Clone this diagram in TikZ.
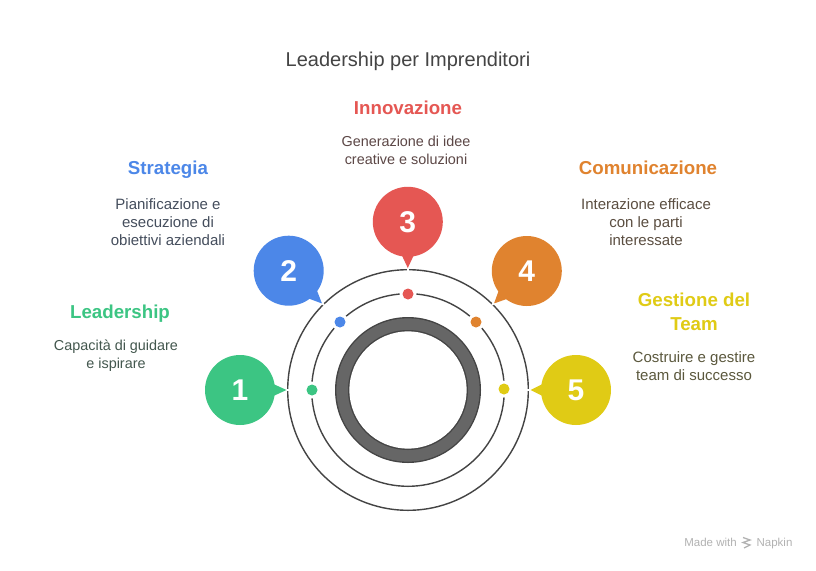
\documentclass[tikz,border=0pt]{standalone}
\usepackage{fontspec}
\setmainfont{Liberation Sans}
\definecolor{cg}{HTML}{3CC583}
\definecolor{cb}{HTML}{4C87E8}
\definecolor{cr}{HTML}{E55753}
\definecolor{co}{HTML}{E0832F}
\definecolor{cy}{HTML}{E0CB15}
\definecolor{ring}{HTML}{444444}
\newcommand{\bubble}[7]{% name, color, x, y, digit, tipx, tipy
  \coordinate (#1tip) at (#6,#7);
  \node[bub,fill=#2] (#1) at (#3,#4) {#5};
  \path let \p1=($(#1tip)-(#1.center)$), \n1={atan2(\y1,\x1)} in
    coordinate (#1a) at ($(#1.center)+(\n1+9.5:34.5pt)$)
    coordinate (#1b) at ($(#1.center)+(\n1-9.5:34.5pt)$);
  \fill[#2] (#1a) -- (#1tip) -- (#1b) -- cycle;
}
\tikzset{
  bub/.style={circle,minimum size=70pt,inner sep=0pt,text=white,font=\fontsize{30}{30}\selectfont\bfseries},
  thin ring/.style={draw=ring,line width=1.4pt},
  dotn/.style={circle,minimum size=11pt,inner sep=0pt},
  halo/.style={circle,fill=white,minimum size=17pt,inner sep=0pt},
  gapmark/.style={draw=white,line width=2pt},
  head/.style={align=center,font=\fontsize{18.7}{24}\selectfont\bfseries},
  body/.style={align=center,font=\fontsize{14.4}{18}\selectfont},
  bodyw/.style={align=center,font=\fontsize{15}{18}\selectfont},
  foot/.style={font=\fontsize{11.5}{13}\selectfont,text=black!30,anchor=base},
}
\usetikzlibrary{calc}
\begin{document}
\begin{tikzpicture}[x=1pt,y=-1pt]
\useasboundingbox[fill=white] (0,0) rectangle (816,570);
\coordinate (c) at (408,390);
% rings
\draw[thin ring] (c) circle[radius=120.3pt];
\draw[thin ring] (c) circle[radius=96.3pt];
\fill[fill=ring] (c) circle[radius=73pt];
\fill[fill=black!60] (c) circle[radius=71.6pt];
\fill[fill=ring] (c) circle[radius=60pt];
\fill[fill=white] (c) circle[radius=58.6pt];
% bubbles
\bubble{b1}{cg}{240}{390}{1}{286.5}{390}
\bubble{b2}{cb}{288.7}{270.7}{2}{322}{303.5}
\bubble{b3}{cr}{407.8}{221.8}{3}{407.8}{268}
\bubble{b4}{co}{526.8}{271}{4}{494}{303.5}
\bubble{b5}{cy}{576}{390}{5}{530.5}{390}
% small gaps in the outer ring beside the tips
\draw[gapmark] (288.8,390) -- (286.5,390);
\draw[gapmark] (324,305) -- (322,303);
\draw[gapmark] (408,268.5) -- (408,271);
\draw[gapmark] (492,305) -- (494,303);
\draw[gapmark] (527,390) -- (529.5,390);
% dots
\node[halo] (h1) at (312,390) {};
\node[halo] (h2) at (340,322) {};
\node[halo] (h3) at (408,294) {};
\node[halo] (h4) at (476,322) {};
\node[halo] (h5) at (504,389) {};
\node[dotn,fill=cg] (d1) at (h1) {};
\node[dotn,fill=cb] (d2) at (h2) {};
\node[dotn,fill=cr] (d3) at (h3) {};
\node[dotn,fill=co] (d4) at (h4) {};
\node[dotn,fill=cy] (d5) at (h5) {};
% texts
\node[font=\fontsize{20}{24}\selectfont,text=ring] (title) at (408,61) {Leadership per Imprenditori};
\node[head,text=cg] (t1) at (120,314) {Leadership};
\node[body,text=ring!85!cg] (p1) at (116,356) {Capacità di guidare\\e ispirare};
\node[head,text=cb] (t2) at (168,170) {Strategia};
\node[bodyw,text=ring!85!cb] (p2) at (168,222) {Pianificazione e\\esecuzione di\\obiettivi aziendali};
\node[head,text=cr] (t3) at (408,108) {Innovazione};
\node[body,text=ring!85!cr] (p3) at (406,150) {Generazione di idee\\creative e soluzioni};
\node[head,text=co] (t4) at (648,168) {Comunicazione};
\node[bodyw,text=ring!85!co] (p4) at (646,222) {Interazione efficace\\con le parti\\interessate};
\node[head,text=cy] (t5) at (694,312) {Gestione del\\Team};
\node[bodyw,text=ring!85!cy] (p5) at (694,366) {Costruire e gestire\\team di successo};
% footer
\node[foot] (m) at (710.5,546.5) {Made with};
\node[foot] (n) at (774.5,546.5) {Napkin};
\draw[black!30,line width=1.3pt] (743,537.5) -- (750,540) -- (743,542.5) -- (750,545) -- (744,548);
\end{tikzpicture}
\end{document}
